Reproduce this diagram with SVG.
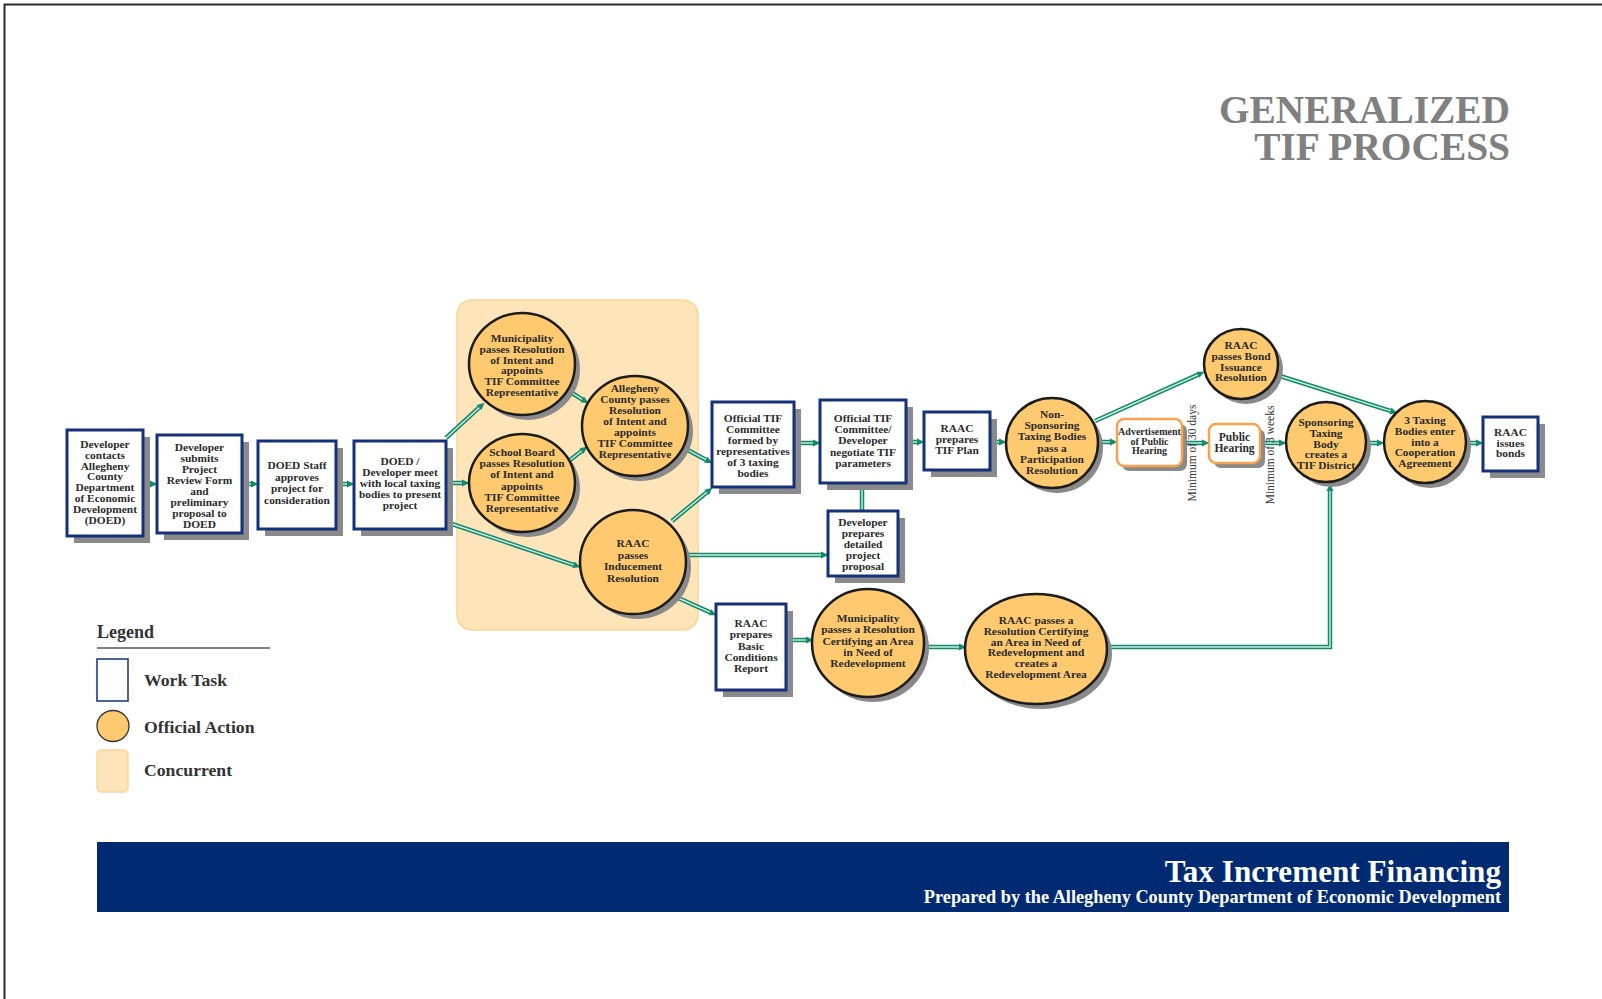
<svg xmlns="http://www.w3.org/2000/svg" width="1602" height="999" viewBox="0 0 1602 999">
<style>
.box{fill:#fff;stroke:#16307a;stroke-width:3}
.sh{fill:#8a8a8a}
.oa{fill:#fec96f;stroke:#1c1c1c;stroke-width:2.5}
.ob{fill:#fff;stroke:#f6a24e;stroke-width:2.5}
.t{font-family:"Liberation Serif",serif;font-weight:bold;font-size:11.4px;fill:#2b2b2b;text-anchor:middle}
.cw{fill:none;stroke:#128a6b;stroke-width:4.5;marker-end:url(#ah)}
.ci{fill:none;stroke:#cdeee2;stroke-width:1.4}
.lg{font-family:"Liberation Serif",serif;font-weight:bold;font-size:17.7px;fill:#333}
.mn{font-family:"Liberation Serif",serif;font-size:11.5px;fill:#333;text-anchor:middle}
</style>
<defs>
<marker id="ah" markerUnits="userSpaceOnUse" markerWidth="8" markerHeight="8" refX="0" refY="4" orient="auto">
<path d="M0,0.5 L7.5,4 L0,7.5 z" fill="#128a6b"/>
</marker>
</defs>
<rect width="1602" height="999" fill="#fff"/>
<path d="M4.5,999 L4.5,4.5 L1602,4.5" fill="none" stroke="#2a2a2a" stroke-width="2"/>

<g id="title">
<text x="1510" y="123" font-family="Liberation Serif,serif" font-weight="bold" font-size="39.4" fill="#808080" text-anchor="end"><tspan x="1510" y="123">GENERALIZED</tspan><tspan x="1510" y="160">TIF PROCESS</tspan></text>
</g>

<g id="concurrent">
<rect x="457" y="300" width="241" height="330" rx="15" fill="#fde4b9" stroke="#fbd596" stroke-width="1.5"/>
</g>

<g id="connectors">
<path class="cw" d="M143,484 L150,484"/><path class="ci" d="M143,484 L150,484"/>
<path class="cw" d="M242,484 L251,484"/><path class="ci" d="M242,484 L251,484"/>
<path class="cw" d="M336,484 L347,484"/><path class="ci" d="M336,484 L347,484"/>
<path class="cw" d="M446,438 L479,407.7"/><path class="ci" d="M446,438 L479,407.7"/>
<path class="cw" d="M446,483 L462,483"/><path class="ci" d="M446,483 L462,483"/>
<path class="cw" d="M446,522 L573.4,564.8"/><path class="ci" d="M446,522 L573.4,564.8"/>
<path class="cw" d="M572,393 L582,399.3"/><path class="ci" d="M572,393 L582,399.3"/>
<path class="cw" d="M570,460 L581.4,451.2"/><path class="ci" d="M570,460 L581.4,451.2"/>
<path class="cw" d="M684,448 L705.8,459.7"/><path class="ci" d="M684,448 L705.8,459.7"/>
<path class="cw" d="M672,521 L706.6,492.5"/><path class="ci" d="M672,521 L706.6,492.5"/>
<path class="cw" d="M686,555 L821,555"/><path class="ci" d="M686,555 L821,555"/>
<path class="cw" d="M676,597 L709.6,612.1"/><path class="ci" d="M676,597 L709.6,612.1"/>
<path class="cw" d="M801,443 L813,443"/><path class="ci" d="M801,443 L813,443"/>
<path class="cw" d="M862,511 L862,490"/><path class="ci" d="M862,511 L862,490"/>
<path class="cw" d="M906,442 L917,442"/><path class="ci" d="M906,442 L917,442"/>
<path class="cw" d="M990,442 L999,442"/><path class="ci" d="M990,442 L999,442"/>
<path class="cw" d="M1097,442 L1110,442"/><path class="ci" d="M1097,442 L1110,442"/>
<path class="cw" d="M1095,421 L1197.6,374.9"/><path class="ci" d="M1095,421 L1197.6,374.9"/>
<path class="cw" d="M1182,443 L1202,443"/><path class="ci" d="M1182,443 L1202,443"/>
<path class="cw" d="M1260,443 L1279,443"/><path class="ci" d="M1260,443 L1279,443"/>
<path class="cw" d="M1366,443 L1377,443"/><path class="ci" d="M1366,443 L1377,443"/>
<path class="cw" d="M1280,376 L1390.3,410.9"/><path class="ci" d="M1280,376 L1390.3,410.9"/>
<path class="cw" d="M1466,443 L1476,443"/><path class="ci" d="M1466,443 L1476,443"/>
<path class="cw" d="M786,640 L806,640"/><path class="ci" d="M786,640 L806,640"/>
<path class="cw" d="M924,647 L959,647"/><path class="ci" d="M924,647 L959,647"/>
<path class="cw" d="M1107,647 L1330,647 L1330,491"/><path class="ci" d="M1107,647 L1330,647 L1330,491"/>
</g>

<g id="n1">
<rect class="sh" x="74" y="437" width="76" height="106"/>
<rect class="box" x="67" y="430" width="76" height="106"/>
<text class="t" x="105" y="448"><tspan x="105">Developer</tspan><tspan x="105" dy="10.8">contacts</tspan><tspan x="105" dy="10.8">Allegheny</tspan><tspan x="105" dy="10.8">County</tspan><tspan x="105" dy="10.8">Department</tspan><tspan x="105" dy="10.8">of Economic</tspan><tspan x="105" dy="10.8">Development</tspan><tspan x="105" dy="10.8">(DOED)</tspan></text>
</g>
<g id="n2">
<rect class="sh" x="164" y="442" width="85" height="98"/>
<rect class="box" x="157" y="435" width="85" height="98"/>
<text class="t" x="199.5" y="451"><tspan x="199.5">Developer</tspan><tspan x="199.5" dy="11">submits</tspan><tspan x="199.5" dy="11">Project</tspan><tspan x="199.5" dy="11">Review Form</tspan><tspan x="199.5" dy="11">and</tspan><tspan x="199.5" dy="11">preliminary</tspan><tspan x="199.5" dy="11">proposal to</tspan><tspan x="199.5" dy="11">DOED</tspan></text>
</g>
<g id="n3">
<rect class="sh" x="265" y="448" width="78" height="88"/>
<rect class="box" x="258" y="441" width="78" height="88"/>
<text class="t" x="297" y="469"><tspan x="297">DOED Staff</tspan><tspan x="297" dy="11.5">approves</tspan><tspan x="297" dy="11.5">project for</tspan><tspan x="297" dy="11.5">consideration</tspan></text>
</g>
<g id="n4">
<rect class="sh" x="361" y="448" width="92" height="88"/>
<rect class="box" x="354" y="441" width="92" height="88"/>
<text class="t" x="400" y="465"><tspan x="400">DOED /</tspan><tspan x="400" dy="11">Developer meet</tspan><tspan x="400" dy="11">with local taxing</tspan><tspan x="400" dy="11">bodies to present</tspan><tspan x="400" dy="11">project</tspan></text>
</g>

<g id="c1">
<ellipse class="sh" cx="527" cy="369" rx="53" ry="51"/>
<ellipse class="oa" cx="522" cy="364" rx="53" ry="51"/>
<text class="t" x="522" y="342"><tspan x="522">Municipality</tspan><tspan x="522" dy="10.8">passes Resolution</tspan><tspan x="522" dy="10.8">of Intent and</tspan><tspan x="522" dy="10.8">appoints</tspan><tspan x="522" dy="10.8">TIF Committee</tspan><tspan x="522" dy="10.8">Representative</tspan></text>
</g>
<g id="c2">
<ellipse class="sh" cx="527" cy="488" rx="53" ry="49"/>
<ellipse class="oa" cx="522" cy="483" rx="53" ry="49"/>
<text class="t" x="522" y="456"><tspan x="522">School Board</tspan><tspan x="522" dy="11.2">passes Resolution</tspan><tspan x="522" dy="11.2">of Intent and</tspan><tspan x="522" dy="11.2">appoints</tspan><tspan x="522" dy="11.2">TIF Committee</tspan><tspan x="522" dy="11.2">Representative</tspan></text>
</g>
<g id="c3">
<ellipse class="sh" cx="640" cy="431" rx="53" ry="50"/>
<ellipse class="oa" cx="635" cy="426" rx="53" ry="50"/>
<text class="t" x="635" y="392"><tspan x="635">Allegheny</tspan><tspan x="635" dy="11">County passes</tspan><tspan x="635" dy="11">Resolution</tspan><tspan x="635" dy="11">of Intent and</tspan><tspan x="635" dy="11">appoints</tspan><tspan x="635" dy="11">TIF Committee</tspan><tspan x="635" dy="11">Representative</tspan></text>
</g>
<g id="c4">
<ellipse class="sh" cx="638" cy="567" rx="53" ry="52"/>
<ellipse class="oa" cx="633" cy="562" rx="53" ry="52"/>
<text class="t" x="633" y="547"><tspan x="633">RAAC</tspan><tspan x="633" dy="11.5">passes</tspan><tspan x="633" dy="11.5">Inducement</tspan><tspan x="633" dy="11.5">Resolution</tspan></text>
</g>

<g id="b5">
<rect class="sh" x="719" y="409" width="82" height="85"/>
<rect class="box" x="712" y="402" width="82" height="85"/>
<text class="t" x="753" y="422"><tspan x="753">Official TIF</tspan><tspan x="753" dy="11">Committee</tspan><tspan x="753" dy="11">formed by</tspan><tspan x="753" dy="11">representatives</tspan><tspan x="753" dy="11">of 3 taxing</tspan><tspan x="753" dy="11">bodies</tspan></text>
</g>
<g id="b6">
<rect class="sh" x="827" y="407" width="86" height="83"/>
<rect class="box" x="820" y="400" width="86" height="83"/>
<text class="t" x="863" y="422"><tspan x="863">Official TIF</tspan><tspan x="863" dy="11.2">Committee/</tspan><tspan x="863" dy="11.2">Developer</tspan><tspan x="863" dy="11.2">negotiate TIF</tspan><tspan x="863" dy="11.2">parameters</tspan></text>
</g>
<g id="b7">
<rect class="sh" x="931" y="419" width="66" height="58"/>
<rect class="box" x="924" y="412" width="66" height="58"/>
<text class="t" x="957" y="432"><tspan x="957">RAAC</tspan><tspan x="957" dy="11">prepares</tspan><tspan x="957" dy="11">TIF Plan</tspan></text>
</g>
<g id="b8">
<rect class="sh" x="835" y="518" width="70" height="65"/>
<rect class="box" x="828" y="511" width="70" height="65"/>
<text class="t" x="863" y="526"><tspan x="863">Developer</tspan><tspan x="863" dy="11">prepares</tspan><tspan x="863" dy="11">detailed</tspan><tspan x="863" dy="11">project</tspan><tspan x="863" dy="11">proposal</tspan></text>
</g>
<g id="b9">
<rect class="sh" x="723" y="611" width="70" height="86"/>
<rect class="box" x="716" y="604" width="70" height="86"/>
<text class="t" x="751" y="627"><tspan x="751">RAAC</tspan><tspan x="751" dy="11.3">prepares</tspan><tspan x="751" dy="11.3">Basic</tspan><tspan x="751" dy="11.3">Conditions</tspan><tspan x="751" dy="11.3">Report</tspan></text>
</g>

<g id="c5">
<ellipse class="sh" cx="873" cy="648" rx="56" ry="54"/>
<ellipse class="oa" cx="868" cy="643" rx="56" ry="54"/>
<text class="t" x="868" y="622"><tspan x="868">Municipality</tspan><tspan x="868" dy="11.3">passes a Resolution</tspan><tspan x="868" dy="11.3">Certifying an Area</tspan><tspan x="868" dy="11.3">in Need of</tspan><tspan x="868" dy="11.3">Redevelopment</tspan></text>
</g>
<g id="c6">
<ellipse class="sh" cx="1041" cy="654" rx="71" ry="55"/>
<ellipse class="oa" cx="1036" cy="649" rx="71" ry="55"/>
<text class="t" x="1036" y="624"><tspan x="1036">RAAC passes  a</tspan><tspan x="1036" dy="10.8">Resolution Certifying</tspan><tspan x="1036" dy="10.8">an Area in Need of</tspan><tspan x="1036" dy="10.8">Redevelopment and</tspan><tspan x="1036" dy="10.8">creates a</tspan><tspan x="1036" dy="10.8">Redevelopment Area</tspan></text>
</g>

<g id="c7">
<ellipse class="sh" cx="1057" cy="448" rx="46" ry="45"/>
<ellipse class="oa" cx="1052" cy="443" rx="46" ry="45"/>
<text class="t" x="1052" y="418"><tspan x="1052">Non-</tspan><tspan x="1052" dy="11.2">Sponsoring</tspan><tspan x="1052" dy="11.2">Taxing Bodies</tspan><tspan x="1052" dy="11.2">pass a</tspan><tspan x="1052" dy="11.2">Participation</tspan><tspan x="1052" dy="11.2">Resolution</tspan></text>
</g>
<g id="ad">
<rect class="sh" x="1122" y="424" width="65" height="47" rx="7"/>
<rect class="ob" x="1117" y="419" width="65" height="47" rx="7"/>
<text class="t" x="1149.5" y="435" style="font-size:10px"><tspan x="1149.5">Advertisement</tspan><tspan x="1149.5" dy="9.6">of Public</tspan><tspan x="1149.5" dy="9.6">Hearing</tspan></text>
</g>
<g id="ph">
<rect class="sh" x="1214" y="429" width="51" height="39" rx="7"/>
<rect class="ob" x="1209" y="424" width="51" height="39" rx="7"/>
<text class="t" x="1234.5" y="441" style="font-size:11.5px"><tspan x="1234.5">Public</tspan><tspan x="1234.5" dy="10.5">Hearing</tspan></text>
</g>
<g id="m30">
<text class="mn" transform="translate(1196,453) rotate(-90)">Minimum of 30 days</text>
</g>
<g id="m3w">
<text class="mn" transform="translate(1274,455) rotate(-90)">Minimum of 3 weeks</text>
</g>
<g id="c8">
<ellipse class="sh" cx="1246" cy="369" rx="37" ry="35"/>
<ellipse class="oa" cx="1241" cy="364" rx="37" ry="35"/>
<text class="t" x="1241" y="349"><tspan x="1241">RAAC</tspan><tspan x="1241" dy="10.8">passes Bond</tspan><tspan x="1241" dy="10.8">Issuance</tspan><tspan x="1241" dy="10.8">Resolution</tspan></text>
</g>
<g id="c9">
<ellipse class="sh" cx="1331" cy="447" rx="40" ry="40"/>
<ellipse class="oa" cx="1326" cy="442" rx="40" ry="40"/>
<text class="t" x="1326" y="426"><tspan x="1326">Sponsoring</tspan><tspan x="1326" dy="10.8">Taxing</tspan><tspan x="1326" dy="10.8">Body</tspan><tspan x="1326" dy="10.8">creates a</tspan><tspan x="1326" dy="10.8">TIF District</tspan></text>
</g>
<g id="c10">
<ellipse class="sh" cx="1430" cy="447" rx="41" ry="41"/>
<ellipse class="oa" cx="1425" cy="442" rx="41" ry="41"/>
<text class="t" x="1425" y="424"><tspan x="1425">3 Taxing</tspan><tspan x="1425" dy="10.8">Bodies enter</tspan><tspan x="1425" dy="10.8">into a</tspan><tspan x="1425" dy="10.8">Cooperation</tspan><tspan x="1425" dy="10.8">Agreement</tspan></text>
</g>
<g id="b10">
<rect class="sh" x="1490" y="424" width="55" height="54"/>
<rect class="box" x="1483" y="417" width="55" height="54"/>
<text class="t" x="1510.5" y="436"><tspan x="1510.5">RAAC</tspan><tspan x="1510.5" dy="10.5">issues</tspan><tspan x="1510.5" dy="10.5">bonds</tspan></text>
</g>

<g id="legend">
<text class="lg" x="97" y="638" style="font-size:18px">Legend</text>
<line x1="97" y1="648" x2="270" y2="648" stroke="#555" stroke-width="1.5"/>
<rect x="97" y="659" width="31" height="42" fill="#fff" stroke="#16307a" stroke-width="1.5"/>
<text class="lg" x="144" y="686">Work Task</text>
<ellipse cx="113" cy="726" rx="16" ry="15.5" fill="#fec96f" stroke="#333" stroke-width="1.3"/>
<text class="lg" x="144" y="733">Official Action</text>
<rect x="97" y="750" width="31" height="42" rx="4" fill="#fde4b9" stroke="#fbd596" stroke-width="1.3"/>
<text class="lg" x="144" y="776">Concurrent</text>
</g>

<g id="banner">
<rect x="97" y="842" width="1412" height="70" fill="#002b73"/>
<text x="1501" y="882" font-family="Liberation Serif,serif" font-weight="bold" font-size="31.2" fill="#fff" text-anchor="end">Tax Increment Financing</text>
<text x="1501" y="903" font-family="Liberation Serif,serif" font-weight="bold" font-size="18.3" fill="#fff" text-anchor="end">Prepared by the Allegheny County Department of Economic Development</text>
</g>
</svg>
